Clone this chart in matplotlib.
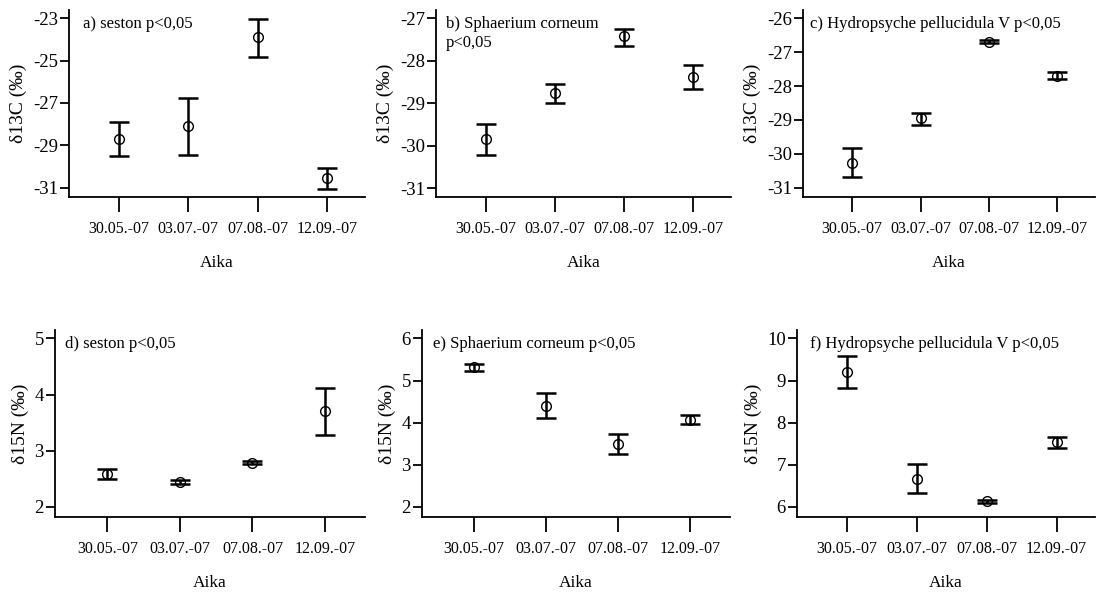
import matplotlib
matplotlib.use('Agg')
import matplotlib.pyplot as plt
import numpy as np

plt.rcParams['font.family'] = ['Liberation Serif', 'DejaVu Serif']

dates = ['30.05.-07', '03.07.-07', '07.08.-07', '12.09.-07']

# d13C, mean / upper / lower
seston_c = [-28.69, -28.11, -23.90, -30.55]
seston_c_hi = [-27.92, -26.77, -23.05, -30.05]
seston_c_lo = [-29.51, -29.45, -24.81, -31.05]

sphaer_c = [-29.85, -28.76, -27.42, -28.38]
sphaer_c_hi = [-29.49, -28.54, -27.24, -28.10]
sphaer_c_lo = [-30.21, -28.99, -27.65, -28.66]

hydro_c = [-30.26, -28.95, -26.69, -27.70]
hydro_c_hi = [-29.84, -28.80, -26.64, -27.59]
hydro_c_lo = [-30.69, -29.15, -26.74, -27.80]

# d15N
seston_n = [2.59, 2.44, 2.78, 3.70]
seston_n_hi = [2.68, 2.47, 2.81, 4.11]
seston_n_lo = [2.49, 2.40, 2.76, 3.28]

sphaer_n = [5.31, 4.40, 3.50, 4.07]
sphaer_n_hi = [5.40, 4.71, 3.72, 4.18]
sphaer_n_lo = [5.23, 4.10, 3.25, 3.96]

hydro_n = [9.21, 6.67, 6.13, 7.54]
hydro_n_hi = [9.58, 7.03, 6.17, 7.65]
hydro_n_lo = [8.82, 6.32, 6.09, 7.40]

W, H = 1096, 593
fig = plt.figure(figsize=(W / 100, H / 100), dpi=100)

def px_axes(left, right, top, bottom):
    return fig.add_axes([left / W, 1 - bottom / H, (right - left) / W, (bottom - top) / H])

panels = [
    # (left, right, top, bottom), mean, hi, lo, ylim, yticks, ylabel, text, text x
    ((69, 365, 10, 197), seston_c, seston_c_hi, seston_c_lo, (-31.44, -22.61),
     [-31, -29, -27, -25, -23], 'δ13C (‰)', 'a) seston p<0,05', 0.047),
    ((436, 731, 10, 197), sphaer_c, sphaer_c_hi, sphaer_c_lo, (-31.21, -26.80),
     [-31, -30, -29, -28, -27], 'δ13C (‰)', 'b) Sphaerium corneum\np<0,05', 0.034),
    ((803, 1095, 10, 197), hydro_c, hydro_c_hi, hydro_c_lo, (-31.27, -25.76),
     [-31, -30, -29, -28, -27, -26], 'δ13C (‰)', 'c) Hydropsyche pellucidula V p<0,05', 0.025),
    ((55, 365, 330, 517), seston_n, seston_n_hi, seston_n_lo, (1.82, 5.15),
     [2, 3, 4, 5], 'δ15N (‰)', 'd) seston p<0,05', 0.032),
    ((422, 730, 330, 517), sphaer_n, sphaer_n_hi, sphaer_n_lo, (1.76, 6.20),
     [2, 3, 4, 5, 6], 'δ15N (‰)', 'e) Sphaerium corneum p<0,05', 0.036),
    ((797, 1095, 330, 517), hydro_n, hydro_n_hi, hydro_n_lo, (5.76, 10.20),
     [6, 7, 8, 9, 10], 'δ15N (‰)', 'f) Hydropsyche pellucidula V p<0,05', 0.045),
]

x = np.arange(len(dates))
for box, mean, hi, lo, ylim, yticks, ylabel, text, tx in panels:
    ax = px_axes(*box)
    mean = np.array(mean)
    err = [mean - np.array(lo), np.array(hi) - mean]
    ax.errorbar(x, mean, yerr=err, fmt='none', ecolor='black', elinewidth=1.8,
                capsize=7.5, capthick=1.8)
    ax.plot(x, mean, 'o', mfc='none', mec='black', ms=7, mew=1.0)
    ax.set_xlim(-0.72, 3.55)
    ax.set_ylim(*ylim)
    ax.set_yticks(yticks)
    ax.set_yticklabels([str(t) for t in yticks])
    ax.set_xticks(x)
    ax.set_xticklabels(dates)
    for s in ['top', 'right']:
        ax.spines[s].set_visible(False)
    for s in ['left', 'bottom']:
        ax.spines[s].set_linewidth(1.3)
    ax.tick_params(axis='y', length=6.5, width=1.3, pad=1.5, labelsize=13.5)
    ax.tick_params(axis='x', length=10.5, width=1.3, pad=7, labelsize=11.5)
    ax.set_xlabel('Aika', fontsize=12.5, labelpad=13)
    ax.set_ylabel(ylabel, fontsize=14, labelpad=4)
    ax.text(tx, 0.97, text, transform=ax.transAxes, ha='left', va='top',
            fontsize=12, linespacing=1.25)

fig.savefig('out.png', dpi=100)
